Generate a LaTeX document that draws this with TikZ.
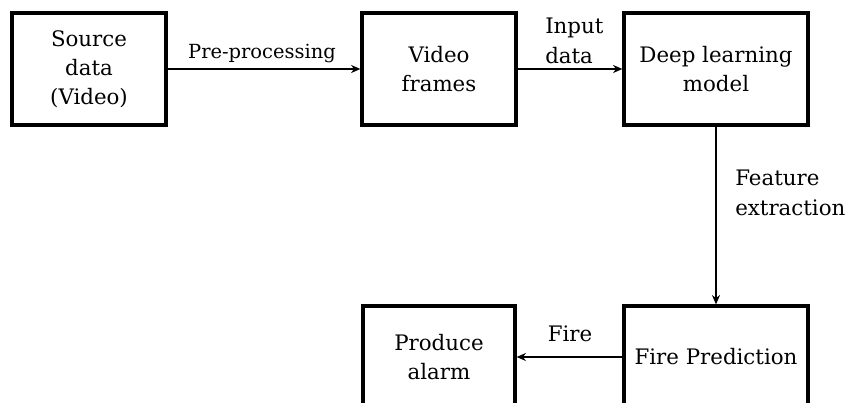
\documentclass[tikz,border=0pt]{standalone}
\usepackage{fontspec}
\setmainfont{DejaVu Serif}
\usetikzlibrary{arrows.meta}
\begin{document}
\begin{tikzpicture}[x=0.75pt,y=-0.75pt,
  box/.style={draw, line width=2.4pt, minimum width=#1*0.75pt, inner sep=0pt, align=center,
    font=\fontsize{16}{21.75}\selectfont},
  lbl/.style={inner sep=0pt, font=\fontsize{16}{22.5}\selectfont},
  conn/.style={line width=1.6pt, -{Stealth[length=7pt,width=6pt]}}]
\useasboundingbox (0,0) rectangle (846,403);
\clip (0,0) rectangle (846,403);
\node[box=154, minimum height=84pt] (src) at (89,69) {Source\\data\\(Video)};
\node[box=154, minimum height=84pt] (vid) at (439,69) {Video\\frames};
\node[box=184, minimum height=84pt] (dl) at (716,69) {Deep learning\\model};
\node[box=184, minimum height=76.5pt] (fp) at (716,357) {Fire Prediction};
\node[box=152, minimum height=76.5pt] (pa) at (439,357) {Produce\\alarm};
\draw[conn] (src) -- (vid);
\draw[conn] (vid) -- (dl);
\draw[conn] (dl) -- (fp);
\draw[conn] (fp) -- (pa);
\node[inner sep=0pt, font=\fontsize{14.6}{18}\selectfont] (lpre) at (262,54) {Pre-processing};
\node[lbl, anchor=west, align=left] (lin) at (545,41) {Input\\data};
\node[lbl, anchor=west, align=left] (lfe) at (735,193) {Feature\\extraction};
\node[lbl] (lfire) at (570,334) {Fire};
\end{tikzpicture}
\end{document}
